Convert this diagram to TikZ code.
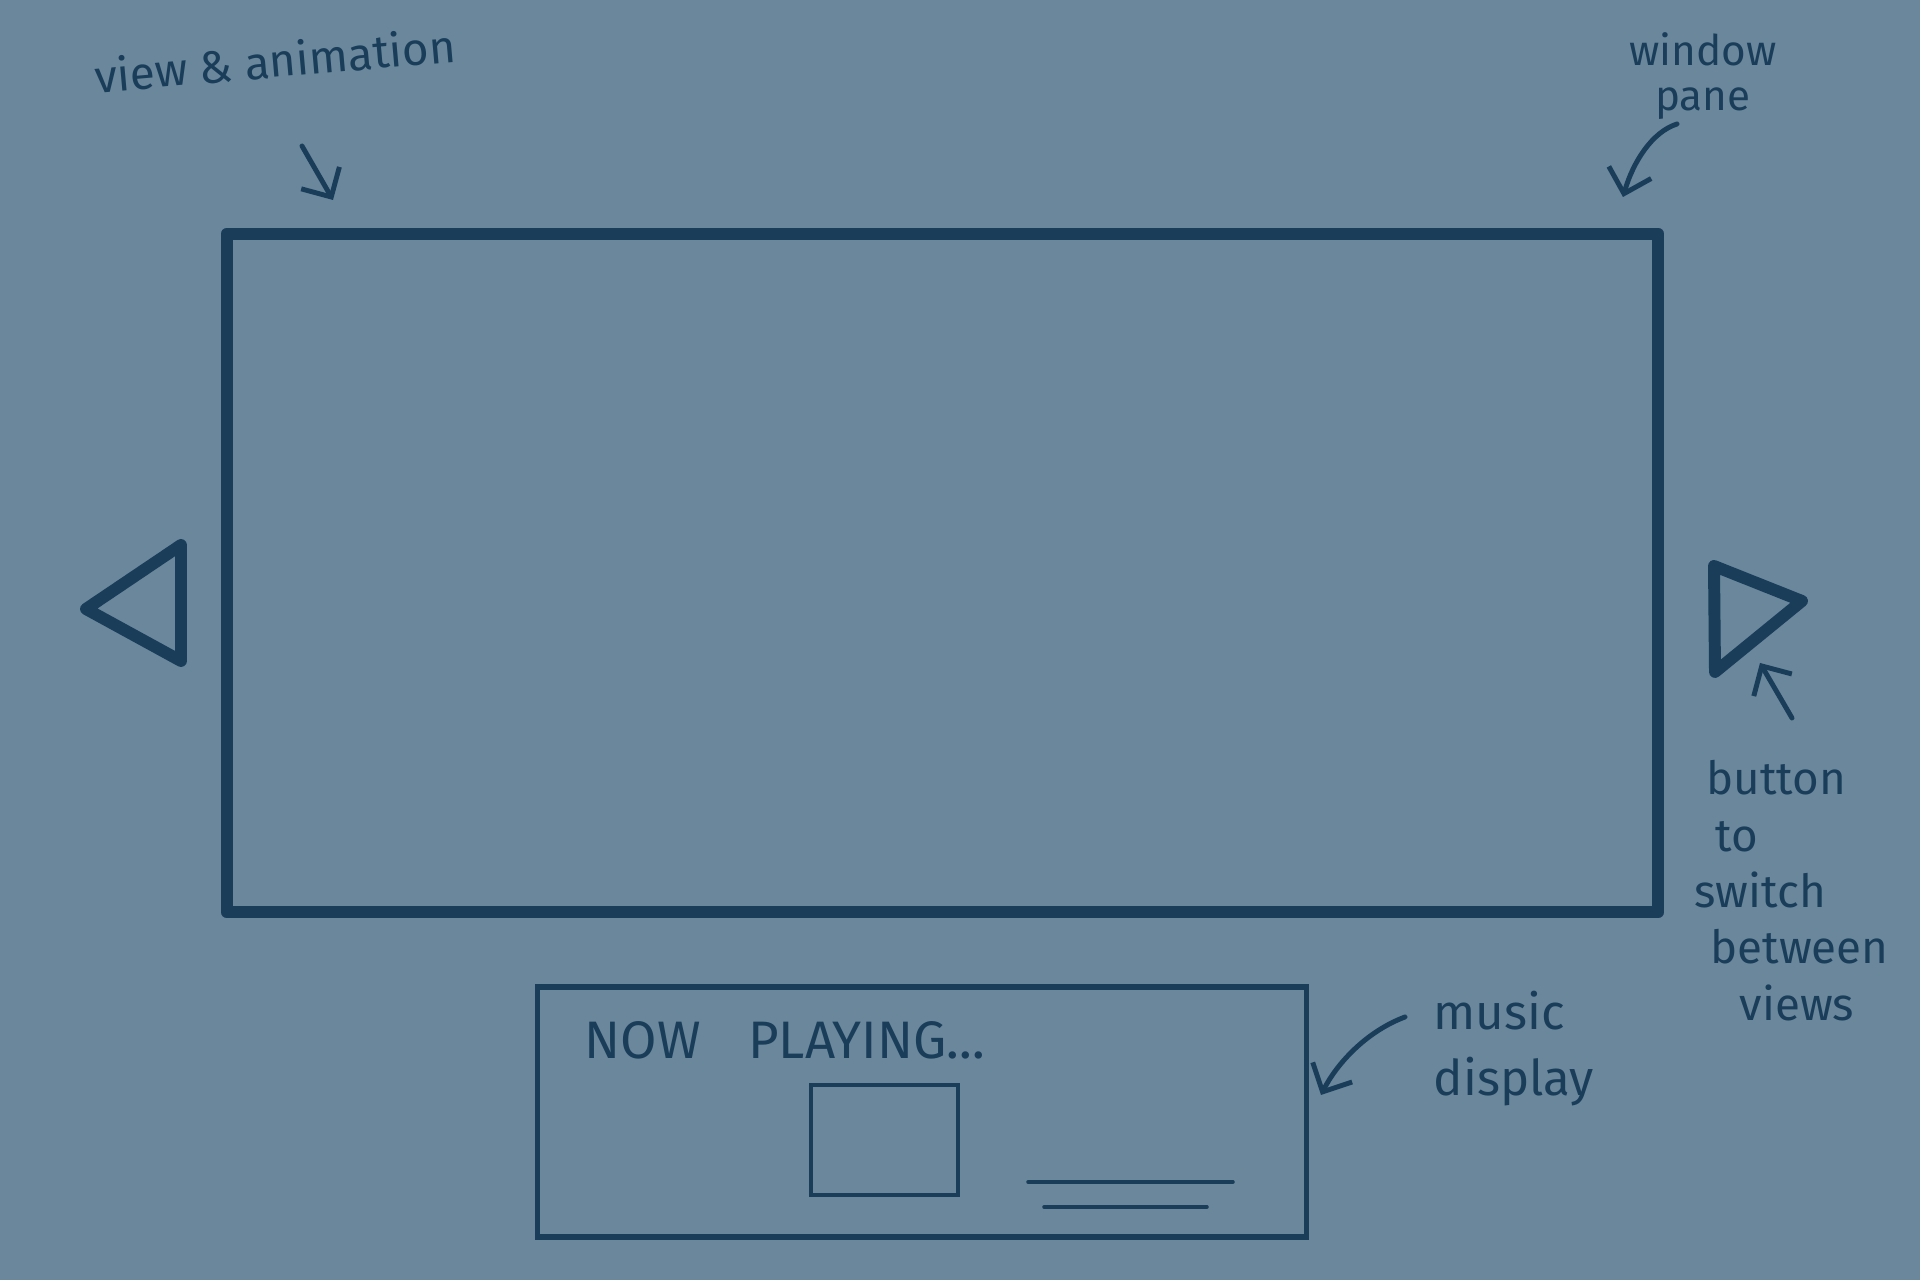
\documentclass[tikz,border=0pt]{standalone}
\usepackage{fontspec}
\setmainfont{Fira Sans}
\usetikzlibrary{arrows.meta,positioning}
\definecolor{SketchInk}{HTML}{1A3D5A}
\definecolor{SketchPaper}{HTML}{6A879C}
\tikzset{
  every node/.style={text=SketchInk},
  pane/.style={draw=SketchInk, line width=3.4pt, line join=round, rectangle},
  panel/.style={draw=SketchInk, line width=1.5pt, rectangle},
  toggle/.style={draw=SketchInk, line width=3.4pt, line join=round, line cap=round},
  sketch/.style={draw=SketchInk, line width=1pt, line cap=round},
  note/.style={font=\fontsize{13}{16}\selectfont, inner sep=0pt},
  pointer/.style={-{Straight Barb[length=2.2mm,width=4.4mm]}, draw=SketchInk, line width=1.4pt, line cap=round},
}
\begin{document}
\begin{tikzpicture}[x=0.01cm,y=-0.01cm]
  \useasboundingbox (0,0) rectangle (1920,1280);
  \fill[SketchPaper] (0,0) rectangle (1920,1280);
  % Main window pane
  \node[pane, minimum width=14.31cm, minimum height=6.78cm] (window) at (942.5,573) {};
  % Buttons to switch views
  \draw[toggle] (86,609) -- (181,545) -- (181,661) -- cycle;
  \draw[toggle] (1714,566) -- (1802,601) -- (1715,672) -- cycle;
  % Music display
  \node[panel, minimum width=7.68cm, minimum height=2.5cm] (music) at (922,1112) {};
  \node[anchor=base west, inner sep=0pt, font=\fontsize{15}{18}\selectfont] (playing) at (584,1059) {NOW\hspace{0.9em}PLAYING...};
  \node[sketch, minimum width=1.47cm, minimum height=1.1cm] (cover) at (884.5,1140) {};
  \draw[sketch] (1028,1182) -- (1233,1182);
  \draw[sketch] (1044,1207) -- (1207,1207);
  % Notes
  \node[note, rotate=5] (viewnote) at (275,60) {view \& animation};
  \node[note, align=center, font=\fontsize{12}{13}\selectfont] (panenote) at (1703,76) {window\\pane};
  \node[note, align=left, anchor=north west] (buttonnote) at (1694,760)
    {\hspace*{3.4pt}button\\\hspace*{6pt}to\\switch\\\hspace*{4.5pt}between\\\hspace*{12.8pt}views};
  \node[note, align=left, anchor=north west, font=\fontsize{14}{19}\selectfont] (musicnote) at (1433,990) {music\\display};
  % Pointers
  \coordinate (viewtail) at (302,146);
  \coordinate (viewtip) at (333,200);
  \coordinate (panetail) at (1677,124);
  \coordinate (panetip) at (1623,197);
  \coordinate (buttontail) at (1792,718);
  \coordinate (buttontip) at (1760,663);
  \coordinate (musictail) at (1405,1017);
  \coordinate (musictip) at (1321,1095);
  \draw[pointer] (viewtail) -- (viewtip);
  \draw[pointer] (panetail) .. controls +(-25,8) and +(10,-35) .. (panetip);
  \draw[pointer] (buttontail) -- (buttontip);
  \draw[pointer] (musictail) .. controls +(-40,15) and +(15,-30) .. (musictip);
\end{tikzpicture}
\end{document}
